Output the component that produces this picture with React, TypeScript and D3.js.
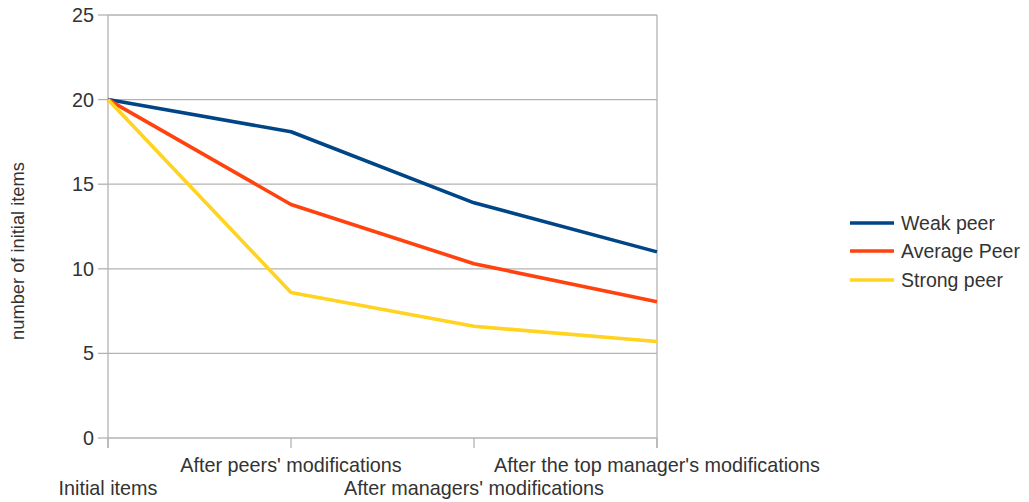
import React from "react";
import * as d3 from "d3";

const categories = [
  "Initial items",
  "After peers' modifications",
  "After managers' modifications",
  "After the top manager's modifications",
];
const weakPeer = [20, 18.1, 13.9, 11.0];
const averagePeer = [20, 13.8, 10.3, 8.05];
const strongPeer = [20, 8.6, 6.6, 5.7];
const seriesNames = ["Weak peer", "Average Peer", "Strong peer"];
const seriesColors = ["#004586", "#ff420e", "#ffd320"];
const yTicks = [0, 5, 10, 15, 20, 25];
const yTitle = "number of initial items";

const W = 1029;
const H = 502;
const left = 108;
const right = 657;
const top = 15;
const bottom = 438;
const FONT = "'Liberation Sans', Arial, sans-serif";
const FS = 19.8;

export default function App() {
  const x = d3
    .scalePoint<string>()
    .domain(categories)
    .range([left, right]);
  const y = d3.scaleLinear().domain([0, 25]).range([bottom, top]);
  const line = d3
    .line<number>()
    .x((_, i) => x(categories[i]) as number)
    .y((d) => y(d));
  const all = [weakPeer, averagePeer, strongPeer];
  const grid = "#b3b3b3";
  const legendY = [223, 251, 280];

  return (
    <svg
      width={W}
      height={H}
      style={{ position: "absolute", left: 0, top: 0, background: "#fff" }}
      fontFamily={FONT}
    >
      {yTicks.map((t) => (
        <g key={t}>
          <line x1={left} x2={right} y1={y(t)} y2={y(t)} stroke={grid} strokeWidth={1.3} />
          <line x1={left - 10} x2={left} y1={y(t)} y2={y(t)} stroke={grid} strokeWidth={1.3} />
          <text
            x={left - 14}
            y={y(t)}
            textAnchor="end"
            dominantBaseline="central"
            fontSize={FS}
            fill="#333"
          >
            {t}
          </text>
        </g>
      ))}
      <line x1={left} x2={left} y1={top} y2={bottom + 10} stroke={grid} strokeWidth={1.3} />
      <line x1={right} x2={right} y1={top} y2={bottom + 10} stroke={grid} strokeWidth={1.3} />
      {categories.map((c, i) => (
        <g key={c}>
          <line
            x1={x(c)}
            x2={x(c)}
            y1={bottom}
            y2={bottom + 10}
            stroke={grid}
            strokeWidth={1.3}
          />
          <text
            x={x(c)}
            y={i % 2 === 1 ? 472 : 495}
            textAnchor="middle"
            fontSize={FS}
            fill="#333"
          >
            {c}
          </text>
        </g>
      ))}
      <text
        transform={`translate(24, 251) rotate(-90)`}
        textAnchor="middle"
        fontSize={18.3}
        fill="#333"
      >
        {yTitle}
      </text>
      {all.map((s, i) => (
        <path
          key={seriesNames[i]}
          d={line(s) || ""}
          fill="none"
          stroke={seriesColors[i]}
          strokeWidth={3.6}
          strokeLinejoin="round"
        />
      ))}
      {seriesNames.map((n, i) => (
        <g key={n}>
          <line
            x1={850}
            x2={894}
            y1={legendY[i]}
            y2={legendY[i]}
            stroke={seriesColors[i]}
            strokeWidth={3.6}
          />
          <text
            x={901}
            y={legendY[i]}
            dominantBaseline="central"
            fontSize={19.5}
            fill="#333"
          >
            {n}
          </text>
        </g>
      ))}
    </svg>
  );
}
